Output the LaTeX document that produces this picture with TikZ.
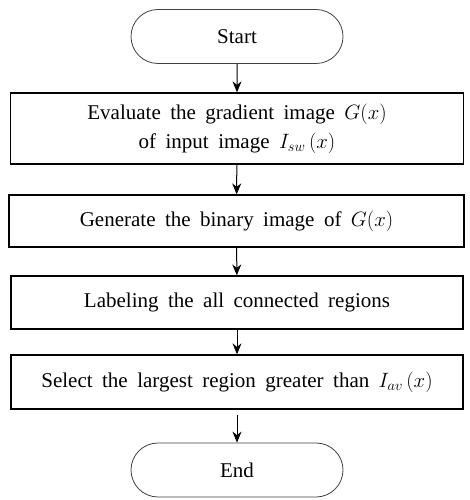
\documentclass[tikz,border=0pt]{standalone}
\usepackage{fontspec}
\setmainfont{Liberation Serif}
\usetikzlibrary{arrows.meta,shapes.misc}
\begin{document}
\begin{tikzpicture}[x=1pt,y=-1pt,
  every node/.style={font=\fontsize{21}{29}\selectfont, inner sep=0pt, align=center},
  proc/.style={draw, line width=1.3pt, minimum height=#1},
  term/.style={draw=black!75, line width=0.8pt, rounded rectangle, minimum width=212pt, minimum height=54pt},
  flow/.style={-{Stealth[length=11pt,width=9pt]}, line width=1pt}]
\useasboundingbox (0,0) rectangle (469,500);
\newcommand{\ws}{\spaceskip=0.45em plus 0.1em\relax}
\node[term] (start) at (237,36.5) {Start};
\node[proc=71pt, minimum width=453pt] (b1) at (237,128.5) {\ws Evaluate the gradient image $G(x)$\\ \ws of input image $I_{sw}\,(x)$};
\node[proc=52pt, minimum width=455pt] (b2) at (236.5,221) {\ws Generate the binary image of $G(x)$};
\node[proc=53pt, minimum width=452pt] (b3) at (237,302.5) {\ws Labeling the all connected regions};
\node[proc=54pt, minimum width=452pt] (b4) at (237,382) {\ws Select the largest region greater than $I_{av}\,(x)$};
\node[term] (end) at (237,470) {End};
\draw[flow] (start) -- (b1);
\draw[flow] (b1) -- (b2);
\draw[flow] (b2) -- (b3);
\draw[flow] (b3) -- (b4);
\draw[flow, shorten <=5pt] (b4) -- (end);
\end{tikzpicture}
\end{document}
